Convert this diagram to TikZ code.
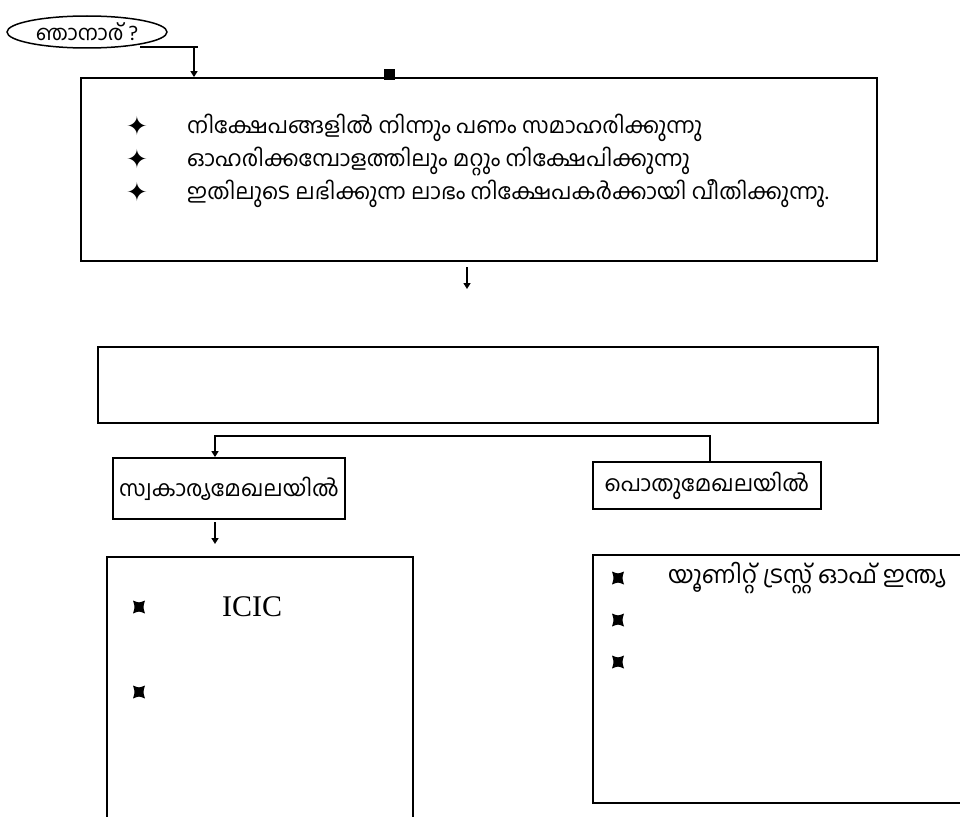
\documentclass[tikz,border=0pt]{standalone}
\usepackage{fontspec}
\setmainfont{Liberation Serif}
\newfontfamily\ml[Script=Malayalam]{Hind Kochi}
\newfontfamily\dv{DejaVu Sans}
\usetikzlibrary{arrows.meta,shapes.geometric}
\tikzset{
  box/.style={draw, line width=1.8pt, inner sep=0pt},
  arr/.style={line width=1.5pt, -{Triangle[length=6pt,width=7pt]}},
  line/.style={line width=1.5pt},
  mltxt/.style={font=\ml\fontsize{22}{26}\selectfont, inner sep=0pt, anchor=west},
  lbltxt/.style={font=\ml\fontsize{22}{26}\selectfont, inner sep=0pt},
  star/.style={font=\dv\fontsize{26}{28}\selectfont, inner sep=0pt},
  cbul/.pic={\fill (-6,-6.5) .. controls (0,-4) .. (6,-6.5) .. controls (4,0) .. (6,6.5) .. controls (0,4) .. (-6,6.5) .. controls (-4,0) .. cycle;}
}
\begin{document}
\begin{tikzpicture}[x=1pt,y=-1pt]
\useasboundingbox (0,0) rectangle (960,816);
\clip (0,0) rectangle (960,816);
\fill[white] (0,0) rectangle (960,816);
% ellipse
\node[draw, ellipse, line width=1.5pt, minimum width=160pt, minimum height=32pt, inner sep=0pt, font=\ml\fontsize{21}{24}\selectfont] (e) at (87,32) {ഞാനാര് ?};
% top box
\node[box, minimum width=796pt, minimum height=183pt] (tb) at (479,169.5) {};
\node[fill, minimum size=11pt, inner sep=0pt] (sq) at (389,74) {};
\coordinate (j1) at (140,47);
\coordinate (j2) at (198,47);
\coordinate (j3) at (194,47);
\draw[line] (j1) -- (j2);
\draw[arr] (j3) -- (tb.north -| j3);
\node[star] (s1) at (137,126) {✦};
\node[star] (s2) at (137,159) {✦};
\node[star] (s3) at (137,192) {✦};
\node[mltxt] (t1) at (187,128) {നിക്ഷേപങ്ങളിൽ നിന്നും പണം സമാഹരിക്കുന്നു};
\node[mltxt] (t2) at (187,161) {ഓഹരിക്കമ്പോളത്തിലും മറ്റും നിക്ഷേപിക്കുന്നു};
\node[mltxt] (t3) at (187,194) {ഇതിലുടെ ലഭിക്കുന്ന ലാഭം നിക്ഷേപകർക്കായി വീതിക്കുന്നു.};
\coordinate (a1s) at (467,267);
\coordinate (a1e) at (467,289);
\draw[arr] (a1s) -- (a1e);
% middle box
\node[box, minimum width=780pt, minimum height=76pt] (mb) at (488,385) {};
% small boxes
\node[box, minimum width=232pt, minimum height=61pt, lbltxt] (lb) at (229,488.5) {സ്വകാര്യമേഖലയിൽ};
\node[box, minimum width=228pt, minimum height=47pt, lbltxt] (rb) at (707,485.5) {പൊതുമേഖലയിൽ};
\coordinate (jr) at (710,436);
\coordinate (jl) at (215,436);
\draw[arr] (rb.north -| jr) -- (jr) -- (jl) -- (lb.north -| jl);
\coordinate (a2s) at (215,522);
\coordinate (a2e) at (215,544);
\draw[arr] (a2s) -- (a2e);
% bottom boxes
\draw[box] (107,557) rectangle (413,840);
\draw[box] (593,555) rectangle (990,803);
\pic at (139,607) {cbul};
\pic at (139,692) {cbul};
\node[font=\fontsize{30}{34}\selectfont, inner sep=0pt, anchor=west] (icic) at (222,607) {ICIC};
\pic at (618,578) {cbul};
\pic at (618,620) {cbul};
\pic at (618,662) {cbul};
\node[mltxt, font=\ml\fontsize{24}{28}\selectfont] (ut) at (668,578) {യൂണിറ്റ് ട്രസ്റ്റ്  ഓഫ് ഇന്ത്യ};
\end{tikzpicture}
\end{document}
